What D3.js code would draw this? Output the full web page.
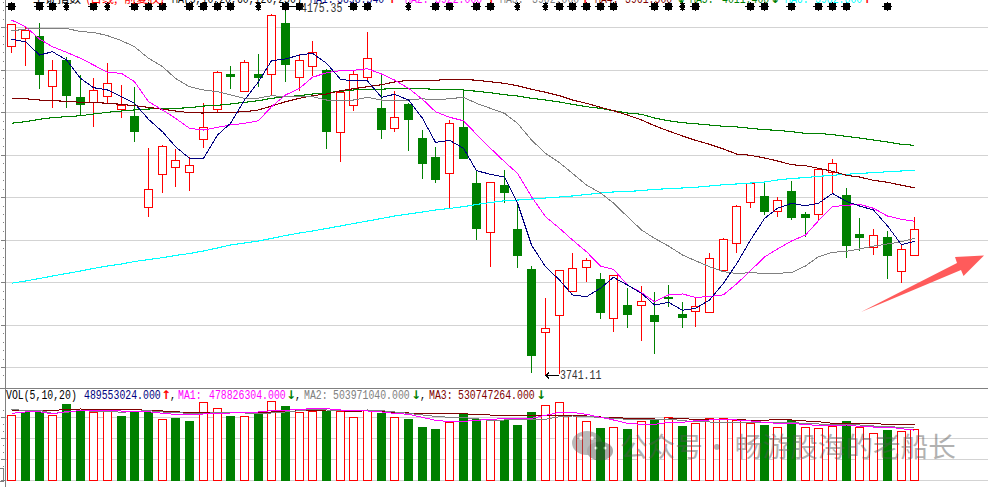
<!DOCTYPE html>
<html lang="zh">
<head>
<meta charset="UTF-8">
<title>上证指数 K线</title>
<style>
	html, body { margin: 0; padding: 0; background: #fff; overflow: hidden; }
	svg { display: block; }
	.mono { font-family: "Liberation Mono", monospace; font-size: 13px; }
	.cjk { font-family: "Noto Sans CJK SC", sans-serif; }
</style>
</head>
<body>
<svg id="chart" width="988" height="487"></svg>
<script src="https://cdn.jsdelivr.net/npm/d3@7"></script>
<script>
// price candles
var opens = [4127.9,4138.5,4140,4080.8,4111.4,4067.9,4062.3,4068.6,4054.9,4045.9,3938.5,3977.3,3985.5,3979.6,4018.5,4053.8,4095.3,4074.9,4095.3,4095,4155.3,4091,4104.4,4100,
	4026.7,4058,4091.4,4054.9,4031.4,4060,4020,3997.6,3978,4033,3967.1,3909,3964.7,3913,3865.5,3790.9,3811.4,3839.6,3867.9,3853.8,3807.9,3823.5,3823.2,3811.7,3832.9,3813,3816.1,3814.9,3864.3,3896.1,
	3944.3,3951.8,3933.3,3957.6,3930.6,3930.2,3980,3953,3907,3891.4,3903.5,3863.2,3882];
var closes = [4153.8,4147.4,4094.5,4099.6,4068.6,4058,4076,4084.3,4059.2,4027.4,3959.6,4010.6,3993.8,3987.9,4032.6,4097.3,4091.8,4109,4090.6,4164.3,4106.2,4111.4,4120.8,4027.4,
	4074.1,4095,4113.8,4028.6,4044.4,4041.2,3989.8,3970.6,4037.3,3995.6,3913.3,3967.9,3955.6,3881.5,3762.7,3796.1,3864.3,3866.7,3876.1,3813.3,3858.5,3812.1,3827.9,3803.9,3830.9,3808.6,3822,3878.5,3900.8,3939.6,
	3966.7,3933.3,3946.7,3926.2,3926.2,3983.2,3990.2,3893.3,3902.7,3905.5,3881.5,3889,3912.6];
var highs = [4153.8,4151,4155,4111.8,4115,4094,4090.2,4107.9,4082.4,4079.6,4007.9,4011.4,4007,3998,4060.8,4098.5,4104.7,4111.4,4118.8,4165.5,4175.35,4118.5,4134.1,4100.8,
	4076.5,4098.8,4144.7,4094.5,4074.9,4060.8,4029.4,4009.8,4041.2,4075.6,3982.4,3967.9,3982.4,3943.5,3869,3831.4,3864.3,3884.3,3878.5,3860.8,3858.5,3843.2,3845.5,3838.5,3846.7,3826.7,3832.6,3884.3,3902,3941.2,
	3966.7,3967,3950.6,3969.4,3932.6,3984.3,3994.9,3961.2,3925.9,3912.6,3910.6,3894.9,3926.7];
var lows = [4120.3,4105,4078,4055.6,4055.6,4047,4033.3,4060.8,4043.9,4015.6,3927.4,3955.6,3962.7,3958,4008.6,4049.8,4078,4074.9,4080.3,4070.2,4085.9,4075.6,4092.6,4007.4,
	3992.1,4052.1,4086.2,4019.2,4027.4,4005,3972.1,3967.4,3937.3,3995.6,3900.3,3868.6,3943.9,3867.4,3743.9,3741.11,3742,3839.6,3851,3807.4,3792.1,3796.8,3781.5,3766.2,3821.5,3796.8,3798,3814.9,3864.3,3885.1,
	3938,3929.4,3927.4,3923.9,3903.2,3923.5,3955,3879.2,3887,3882.7,3854.5,3849.8,3882];

// price moving averages
var ma5 = [4136.1,4133.3,4117.6,4121.5,4111.8,4090.2,4079.2,4076.5,4068.6,4060.8,4042,4027.4,4009.8,3996.1,3996.1,4023.5,4037.3,4064.7,4086.2,4111,4113,4117.6,4119.6,4107.9,
	4089.1,4087.1,4087.1,4067.9,4071.4,4064.7,4043.2,4014.9,4017.3,4007.9,3981.5,3977.3,3974.1,3943.5,3894.1,3868.6,3852.9,3835.3,3833.3,3843.2,3856.1,3847,3837.3,3823.5,3826.7,3817.3,3819.6,3829.4,3849.1,3871.8,
	3900,3925.3,3937.3,3943.2,3940.3,3943.2,3954.7,3945.3,3940,3935.3,3916.5,3894.5,3898.5];
var ma10 = [4158.8,4151,4136.5,4127.4,4120.8,4113.8,4105.9,4097.3,4096.1,4086.2,4062.7,4053,4043.2,4031.4,4029.4,4032.6,4035.3,4037.3,4040.3,4056.8,4070.6,4078.5,4091.4,4096.8,
	4099.2,4099.6,4101.5,4095.3,4088.2,4078.5,4065.5,4051,4044.4,4040.3,4024.3,4007.9,3992.1,3978.4,3950.9,3927.4,3913.8,3900,3886.2,3869.4,3865.5,3847,3838,3827.4,3835.3,3836.5,3832.6,3833.3,3835.6,3848.2,
	3863.9,3880,3889.4,3898.8,3905.9,3922.7,3939.2,3940.8,3942,3937.3,3928.2,3924.3,3922];
var ma20 = [4145.9,4148.2,4149,4149,4149,4145.1,4144.3,4140.4,4134.5,4127.4,4113.8,4103.9,4090.2,4080.3,4076.5,4074.5,4070.6,4066.7,4067,4069.8,4068.6,4068.6,4068.6,4064.7,
	4064.7,4064.7,4067.9,4064.7,4064.7,4064.7,4066.2,4064.7,4066.2,4067.9,4060.8,4054.9,4049,4037.3,4017.6,4002,3990.9,3978.4,3964.7,3955.3,3943.5,3927.4,3911.8,3902,3892.9,3882.4,3875.6,3868.6,3862.7,3860.6,
	3861.5,3860.8,3860.8,3861.7,3869.4,3880.4,3885.5,3886.7,3889.4,3892.9,3895.3,3898,3902];
var ma60 = [4066.2,4066.2,4064.7,4063.9,4063.2,4062,4062,4060.8,4059.6,4058,4056.1,4053.8,4051.8,4049.8,4049.4,4050.2,4050.2,4050.9,4053,4057.6,4062.7,4066.7,4069.8,4071.8,
	4075.6,4078,4080.3,4082.7,4085.9,4087.9,4087.9,4087.9,4089.1,4089.1,4087.9,4086.2,4084.3,4081.5,4077.3,4073.8,4069.8,4064.7,4060.8,4056.1,4052.1,4047,4041.2,4034.5,4028.2,4022.4,4017.3,4012.6,4007,4001.2,
	3999.6,3996.5,3993,3988.6,3987.4,3984.3,3980.8,3976.1,3974.1,3970.2,3967.9,3964.4,3961.5];
var ma120 = [4037.3,4039.2,4042,4043.9,4045.1,4046.2,4048.2,4050.2,4051.8,4053,4054.1,4054.9,4054.9,4055.6,4057.6,4058.5,4060,4062,4063.9,4066.7,4068.6,4069.8,4071.8,4073.3,
	4075,4076.5,4077.3,4077.3,4078.5,4078.5,4078,4077.3,4077.3,4076.5,4075,4073.3,4071,4069.4,4066.7,4064.7,4062.3,4059.6,4056.8,4054.9,4052.1,4049.4,4047.9,4043.5,4040.3,4038,4036.8,4035.3,4033.8,4033,
	4031.4,4029.8,4029,4027.4,4025.5,4025.5,4023.9,4022,4020,4017.6,4015.3,4012.6,4011.4];
var ma250 = [3849.1,3851.8,3854.7,3857.6,3860.6,3863.5,3866.5,3869.4,3871.8,3874.7,3877,3879.2,3881.8,3884.1,3887.1,3890.6,3894.1,3896.5,3898.8,3901.8,3905.3,3908.2,3910.6,3913.5,
	3916.5,3919.4,3922.3,3925.3,3928.2,3930.6,3932.9,3935.3,3937.1,3939.2,3941.8,3944.1,3946.2,3947,3948.2,3949.4,3950.6,3951.8,3953.5,3955.3,3956.5,3957,3958.2,3959.6,3960.3,3961.2,3962,3963.5,3965,3965.9,
	3967,3968.2,3970.6,3972.3,3973.5,3974.9,3976.1,3977.3,3978.4,3979.2,3980.3,3981.2,3982];

// volume, in millions
var volumes = [623.8,661.9,661.9,623.8,738.1,678.1,652.4,664.8,623.8,671.4,664.8,582.9,604.8,576.2,744.8,687.6,623.8,614.3,649.5,754.3,719,652.4,661.9,671.4,
	661.9,601.9,671.4,649.5,601.9,595.3,519,500,557.2,640,592.4,576.2,582.9,538.1,661.9,716.2,744.8,623.8,563.8,509.5,506.7,500,569.5,598.1,601.9,528.6,544.8,595.3,592.4,576.2,
	544.8,538.1,506.7,582.9,506.7,497.1,516.2,576.2,506.7,449.5,490.5,468.6,489.55];
// 1 = hollow red bar, 0 = solid green bar (follows close against previous close, not the candle body)
var volUp = [1,0,0,1,0,0,1,1,0,0,0,1,0,0,1,1,0,1,0,1,0,1,1,0,
	1,1,1,0,1,0,0,0,1,0,0,1,0,0,0,1,1,1,1,0,1,0,1,0,
	1,0,1,1,1,1,1,0,1,0,1,1,1,0,1,1,0,1,1];
var vol5 = [639.7,652.4,655.6,633.4,655.6,665.1,665.1,665.1,661.9,661.9,655.6,639.7,630.2,630.2,633.4,639.7,642.9,642.9,652.4,665.1,668.3,677.8,684.2,684.2,
	671.5,668.3,661.9,652.4,639.7,630.2,601.6,573,560.3,563.5,573,582.6,588.9,585.7,592.1,620.7,649.2,649.2,630.2,601.6,576.2,544.5,534.9,534.9,554,554,569.9,576.2,576.2,576.2,
	566.7,554,544.5,541.3,534.9,522.2,522.2,528.6,515.9,509.5,509.5,493.6,478.8];
var vol10 = [677.8,665.1,668.3,639.7,649.2,668.3,658.8,661.9,649.2,658.8,665.1,652.4,646.1,639.7,639.7,646.1,642.9,642.9,639.7,642.9,652.4,665.1,677.8,671.5,
	665.1,665.1,671.5,665.1,652.4,639.7,623.8,611.1,601.6,598.4,588.9,569.9,576.2,576.2,582.6,582.6,608,614.3,608,601.6,592.1,582.6,582.6,576.2,585.7,569.9,560.3,557.2,554,554,
	554,550.8,550.8,550.8,544.5,538.1,531.8,528.6,528.6,519,512.7,506.4,504];
var vol20 = [671.5,665.1,668.3,665.1,677.8,681,671.5,674.6,674.6,674.6,668.3,661.9,655.6,646.1,646.1,646.1,646.1,646.1,646.1,652.4,655.6,665.1,668.3,671.5,
	665.1,652.4,668.3,655.6,646.1,642.9,636.5,636.5,636.5,636.5,627,623.8,623.8,620.7,620.7,620.7,620.7,620.7,614.3,604.8,601.6,592.1,592.1,585.7,585.7,588.9,582.6,582.6,582.6,582.6,
	573,573,582.6,576.2,566.7,560.3,544.5,544.5,541.3,541.3,534.9,534.9,530.7];

var starDays = [0,2,3,4,6,7,9,10,11,13,14,15,16,18,20,21,25,26,29,31,32,34,35,37,39,40,41,42,43,44,47,48,49,50,54,55,57,59,60,61,64];
var narrowStars = [4,7,18,29,37,39,49];

var priceTicks = d3.range(3750, 4151, 50);
var priceMinor = d3.range(3740, 4181, 10);
var volTicks = [0, 200, 400, 600];
var volMinor = [66.7, 133.3, 266.7, 333.3, 466.7, 533.3, 666.7];

var RED = "#ff0000", GREEN = "#008000", NAVY = "#000080", PINK = "#ff00ff",
	GREY = "#808080", BROWN = "#800000", CYAN = "#00ffff", GRID = "#d3d3d3";

var x = d3.scaleBand().domain(d3.range(opens.length)).range([4.46, 4.46 + 13.68 * opens.length])
	.paddingInner(0.34).paddingOuter(0.17);
var y = d3.scaleLinear().domain([3750, 4150]).range([367.5, 27.5]);
var yVol = d3.scaleLinear().domain([0, 600]).range([480.5, 417.5]);
var mid = function(i) { return Math.round(x(i) + x.bandwidth() / 2); };

var svg = d3.select("#chart");

// grid, axis line and tick marks
var grid = svg.append("g").attr("shape-rendering", "crispEdges");
function hLines(vals, scale) {
	grid.selectAll(null).data(vals).enter().append("line")
		.attr("x1", 5).attr("x2", 988)
		.attr("y1", function(d) { return Math.floor(scale(d)) + 0.5; })
		.attr("y2", function(d) { return Math.floor(scale(d)) + 0.5; })
		.attr("stroke", GRID);
}
hLines(priceTicks, y);
hLines(volTicks, yVol);
grid.append("line").attr("x1", 0).attr("x2", 988).attr("y1", 388.5).attr("y2", 388.5).attr("stroke", GREY);
grid.append("line").attr("x1", 5.5).attr("x2", 5.5).attr("y1", 0).attr("y2", 487).attr("stroke", GREY).attr("stroke-width", 1);
function ticks(vals, scale, x0, w) {
	grid.selectAll(null).data(vals).enter().append("rect")
		.attr("x", x0).attr("width", w).attr("height", 1)
		.attr("y", function(d) { return Math.floor(scale(d)); })
		.attr("fill", GREY);
}
ticks(priceTicks, y, 1, 4);
ticks(priceMinor.filter(function(d) { return d % 50 != 0; }), y, 3, 1);
ticks(volTicks, yVol, 1, 4);
ticks(volMinor, yVol, 3, 1);
grid.append("rect").attr("x", -1).attr("y", 468.5).attr("width", 4).attr("height", 13)
	.attr("fill", "none").attr("stroke", GREY);

// candles
var candles = svg.append("g").attr("shape-rendering", "crispEdges");
var isUp = function(i) { return closes[i] >= opens[i]; };
candles.selectAll("line").data(d3.range(opens.length)).enter().append("line")
	.attr("x1", function(i) { return mid(i) + 0.5; })
	.attr("x2", function(i) { return mid(i) + 0.5; })
	.attr("y1", function(i) { return y(highs[i]); })
	.attr("y2", function(i) { return y(lows[i]); })
	.attr("stroke", function(i) { return isUp(i) ? RED : GREEN; });
candles.selectAll("rect").data(d3.range(opens.length)).enter().append("rect")
	.attr("x", function(i) { return mid(i) - (isUp(i) ? 3.5 : 4); })
	.attr("width", function(i) { return isUp(i) ? 8 : 9; })
	.attr("y", function(i) { return Math.round(y(Math.max(opens[i], closes[i]))) + (isUp(i) ? 0.5 : 0); })
	.attr("height", function(i) { return Math.max(Math.round(Math.abs(y(opens[i]) - y(closes[i]))), 1); })
	.attr("fill", function(i) { return isUp(i) ? "#fff" : GREEN; })
	.attr("stroke", function(i) { return isUp(i) ? RED : "none"; });

// volume bars
var vols = svg.append("g").attr("shape-rendering", "crispEdges");
vols.selectAll("rect").data(volumes).enter().append("rect")
	.attr("x", function(d, i) { return mid(i) - (volUp[i] ? 3.5 : 4); })
	.attr("width", function(d, i) { return volUp[i] ? 8 : 9; })
	.attr("y", function(d) { return Math.round(yVol(d)) + 0.5; })
	.attr("height", function(d) { return 480 - Math.round(yVol(d)); })
	.attr("fill", function(d, i) { return volUp[i] ? "#fff" : GREEN; })
	.attr("stroke", function(d, i) { return volUp[i] ? RED : "none"; });

// moving average lines
function maLine(vals, scale, colour, w) {
	var line = d3.line()
		.x(function(d, i) { return mid(i) + 0.5; })
		.y(function(d) { return scale(d); });
	svg.append("path").attr("d", line(vals)).attr("fill", "none")
		.attr("stroke", colour).attr("stroke-width", w).attr("shape-rendering", "crispEdges");
}
maLine(ma250, y, CYAN, 1.1);
maLine(ma120, y, GREEN, 1.1);
maLine(ma60, y, BROWN, 1.1);
maLine(ma20, y, GREY, 1);
maLine(ma10, y, PINK, 1);
maLine(ma5, y, NAVY, 1);
maLine(vol20, yVol, BROWN, 1);
maLine(vol10, yVol, GREY, 1);
maLine(vol5, yVol, PINK, 1);

// the row of star markers along the top
var starPath = d3.range(16).map(function(k) {
	var r = k % 2 ? 3.4 : 5, a = k * Math.PI / 8;
	return [r * Math.sin(a), -r * Math.cos(a)];
});
var starD = d3.line()(starPath) + "Z";
svg.append("g").selectAll("path").data(starDays).enter().append("path")
	.attr("d", starD)
	.attr("fill", "#000")
	.attr("shape-rendering", "crispEdges")
	.attr("transform", function(d) {
		return "translate(" + (mid(d) + 0.5) + ",6.5)" + (narrowStars.indexOf(d) >= 0 ? " scale(0.6,1)" : "");
	});

// legend text helpers
function mono(txt, xPos, yPos, colour) {
	return svg.append("text").attr("class", "mono").attr("x", xPos).attr("y", yPos)
		.attr("textLength", txt.length * 5.9).attr("lengthAdjust", "spacingAndGlyphs")
		.attr("fill", colour).text(txt);
}
function arrow(ch, xPos, yPos, colour) {
	svg.append("text").attr("x", xPos).attr("y", yPos).attr("text-anchor", "middle")
		.attr("font-family", "DejaVu Sans").attr("font-size", 12).attr("font-weight", "bold")
		.attr("fill", colour).text(ch);
}

// top row, mostly cut off by the window edge
svg.append("text").attr("class", "cjk").attr("x", 33).attr("y", 3).attr("font-size", 12).attr("fill", "#000").text("上证指数");
svg.append("text").attr("class", "cjk").attr("x", 86).attr("y", 3).attr("font-size", 12).attr("fill", RED).text("(日线,");
svg.append("text").attr("class", "cjk").attr("x", 124).attr("y", 3).attr("font-size", 12).attr("fill", RED).text("前复权)");
mono("MA(5,10,20,60,120,250)", 172, 3, "#000");
var topLabels = ["MA1:", "MA2:", "MA3:", "MA4:", "MA5:", "MA6:"];
var topValues = ["3898.540", "3922.000", "3902.000", "3961.500", "4011.400", "3982.000"];
var topColours = [NAVY, PINK, GREY, BROWN, GREEN, CYAN];
var topLabelX = [310, 405, 500, 595, 690, 785];
var topValueX = [337, 435, 532, 625, 722, 815];
var topArrowX = [392, 491, 585, 681, 775, 867];
var topArrows = ["↑", "↑", "↑", "↓", "↓", "↑"];
topLabels.forEach(function(l, i) {
	mono(l, topLabelX[i], 3, topColours[i]);
	mono(topValues[i], topValueX[i], 3, topColours[i]);
	arrow(topArrows[i], topArrowX[i], 3, topArrows[i] == "↑" ? RED : GREEN);
});

// extreme labels
function extreme(i, price, txt, xText, yText) {
	var yy = Math.round(y(price)) + 0.5;
	svg.append("path")
		.attr("d", "M" + (mid(i) + 1) + "," + yy + "H" + (xText - 1) +
			"M" + (mid(i) + 4) + "," + (yy - 3) + "L" + (mid(i) + 1) + "," + yy + "L" + (mid(i) + 4) + "," + (yy + 3))
		.attr("fill", "none").attr("stroke", "#000").attr("shape-rendering", "crispEdges");
	mono(txt, xText, yText, "#333");
}
extreme(20, highs[20], "4175.35", 301, 12);
extreme(39, lows[39], "3741.11", 560, 379);

// volume legend
var volLabels = ["VOL(5,10,20)", "MA1:", "MA2:", "MA3:"];
var volValues = ["489553024.000", "478826304.000", "503971040.000", "530747264.000"];
var volColours = ["#000", PINK, GREY, BROWN];
var valColours = [NAVY, PINK, GREY, BROWN];
var volLabelX = [6, 178, 304, 429];
var volValueX = [84, 209, 333, 458];
var volArrowX = [166, 291, 416, 541];
var volArrows = ["↑", "↓", "↓", "↓"];
volLabels.forEach(function(l, i) {
	mono(l, volLabelX[i], 399, volColours[i]);
	mono(volValues[i], volValueX[i], 399, valColours[i]);
	arrow(volArrows[i], volArrowX[i], 399, volArrows[i] == "↑" ? RED : GREEN);
	if (i < 3) mono(",", volArrowX[i] + 4, 399, "#000");
});

// watermark
var mark = svg.append("g").attr("opacity", 0.45);
mark.append("ellipse").attr("cx", 587).attr("cy", 443).attr("rx", 15).attr("ry", 12).attr("fill", "#666");
mark.append("ellipse").attr("cx", 600).attr("cy", 451).attr("rx", 13).attr("ry", 9.5).attr("fill", "#444");
mark.append("circle").attr("cx", 581).attr("cy", 438).attr("r", 1.8).attr("fill", "#fff");
mark.append("circle").attr("cx", 592).attr("cy", 438).attr("r", 1.8).attr("fill", "#fff");
mark.append("circle").attr("cx", 596).attr("cy", 448).attr("r", 1.5).attr("fill", "#fff");
mark.append("circle").attr("cx", 605).attr("cy", 448).attr("r", 1.5).attr("fill", "#fff");
var markText = svg.append("g").attr("opacity", 0.45).attr("fill", "#555").attr("class", "cjk").attr("font-size", 27.6);
markText.append("text").attr("x", 620).attr("y", 457).text("公众号");
markText.append("text").attr("x", 703).attr("y", 457).text("·");
markText.append("text").attr("x", 735).attr("y", 457).text("畅游股海的老船长");

// hand drawn red arrow
svg.append("polygon")
	.attr("points", "861,312 957,263 955,257 984,255.5 963.5,276 961,270")
	.attr("fill", "#ff5b5b");
</script>
</body>
</html>
